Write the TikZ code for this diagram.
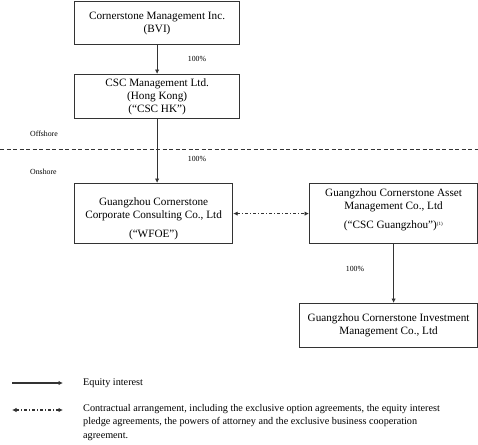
\documentclass[tikz,border=0pt]{standalone}
\usepackage{fontspec}
\setmainfont{Liberation Serif}
\usetikzlibrary{arrows.meta}
\definecolor{linec}{HTML}{333333}
\tikzset{
  box/.style={draw=linec, line width=1.2pt, inner sep=0pt, anchor=north west, align=center,
    font=\fontsize{11.2}{13}\selectfont},
  eq/.style={draw=linec, line width=1.1pt, -{Latex[length=4.5pt,width=4.5pt]}},
  contract/.style={draw=linec, line width=1.1pt, dash pattern=on 3pt off 2pt on 1pt off 2pt,
    {Latex[length=4.5pt,width=4.5pt]}-{Latex[length=4.5pt,width=4.5pt]}},
  pct/.style={font=\fontsize{7.8}{9}\selectfont, inner sep=0pt},
  legtext/.style={font=\fontsize{10.2}{13.5}\selectfont, inner sep=0pt, anchor=west, align=left}
}
\begin{document}
\begin{tikzpicture}[x=1pt,y=-1pt]
\useasboundingbox (0,0) rectangle (478,444);
\node[box, minimum width=165pt, minimum height=43pt] (b1) at (74,1) {Cornerstone Management Inc.\\(BVI)};
\node[box, minimum width=165pt, minimum height=44pt] (b2) at (74,74) {CSC Management Ltd.\\(Hong Kong)\\(“CSC HK”)};
\node[box, minimum width=158pt, minimum height=60pt] (b3) at (74,183) {\rule{0pt}{18pt}Guangzhou Cornerstone\\Corporate Consulting Co., Ltd\\[6pt](“WFOE”)};
\node[box, minimum width=168pt, minimum height=60pt] (b4) at (309,183) {Guangzhou Cornerstone Asset\\Management Co., Ltd\\[6pt](“CSC Guangzhou”)\textsuperscript{\fontsize{5}{6}\selectfont (1)}\rule[-9pt]{0pt}{0pt}};
\node[box, minimum width=178pt, minimum height=44pt] (b5) at (299,303) {Guangzhou Cornerstone Investment\\Management Co., Ltd};

\draw[eq] (b1.south) -- (b2.north);
\draw[eq] (b2.south) -- (b2.south |- b3.north);
\draw[eq] (b4.south) -- (b4.south |- b5.north);
\draw[contract] (b3.east) -- (b4.west);

\coordinate (dl) at (0,149);
\coordinate (dr) at (478,149);
\draw[linec, line width=0.9pt, dash pattern=on 4pt off 2.5pt] (dl) -- (dr);

\node[pct] (p1) at (197,59) {100\%};
\node[pct] (p2) at (197,159) {100\%};
\node[pct] (p3) at (355,269) {100\%};
\node[pct, anchor=west] (off) at (30,134) {Offshore};
\node[pct, anchor=west] (on) at (30,172) {Onshore};

\coordinate (l1a) at (12,383);
\coordinate (l1b) at (63,383);
\coordinate (l2a) at (12,410);
\coordinate (l2b) at (63,410);
\draw[eq] (l1a) -- (l1b);
\draw[contract] (l2a) -- (l2b);
\node[legtext] (t1) at (83,383) {Equity interest};
\node[legtext, anchor=north west] (t2) at (83,404) {Contractual arrangement, including the exclusive option agreements, the equity interest\\pledge agreements, the powers of attorney and the exclusive business cooperation\\agreement.};
\end{tikzpicture}
\end{document}
